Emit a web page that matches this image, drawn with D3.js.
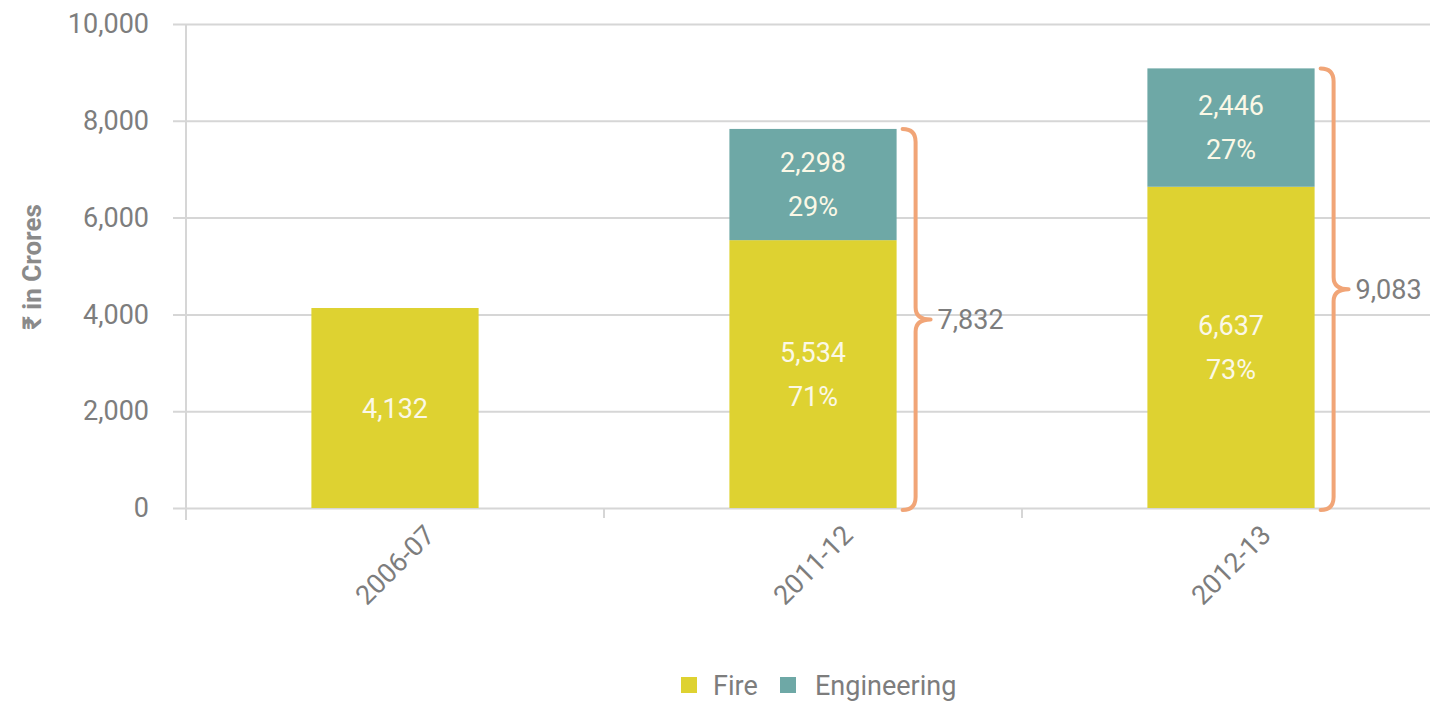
<!DOCTYPE html>
<html>
<head>
<meta charset="utf-8">
<script src="https://cdn.jsdelivr.net/npm/d3@7"></script>
<style>
  html, body { margin: 0; padding: 0; background: #ffffff; }
  svg { display: block; }
  text { font-family: Roboto, "Liberation Sans", sans-serif; }
</style>
</head>
<body>
<svg id="chart" width="1430" height="702"></svg>
<script>
// Premium by business line, ₹ in Crores
const categories = ["2006-07", "2011-12", "2012-13"];
const fireValues = [4132, 5534, 6637];
const engineeringValues = [0, 2298, 2446];
const seriesNames = ["Fire", "Engineering"];
const seriesColors = ["#ded231", "#6ea8a6"];
const yTickValues = [0, 2000, 4000, 6000, 8000, 10000];
const yTitle = "₹ in Crores";

const FONT = "Roboto, \"Liberation Sans\", sans-serif";
const svg = d3.select("#chart");
const W = 1430;
const margin = { left: 186, top: 24, bottom: 508 };

const x = d3.scaleBand()
  .domain(categories)
  .range([margin.left, 1440])
  .paddingInner(0.6)
  .paddingOuter(0.3);

const y = d3.scaleLinear().domain([0, 10000]).range([margin.bottom, margin.top]);

const grey = "#7d7d7d";
const gridColor = "#d6d6d6";

// Gridlines + y tick labels
const yAxis = svg.append("g")
  .attr("transform", `translate(173,0)`)
  .call(d3.axisLeft(y)
    .tickValues(yTickValues)
    .tickFormat(d3.format(","))
    .tickSize(-(W - 173))
    .tickPadding(24));
yAxis.select(".domain").remove();
yAxis.selectAll(".tick line").attr("stroke", gridColor).attr("stroke-width", 2);
yAxis.selectAll(".tick text")
  .attr("fill", grey)
  .style("font-size", "27px")
  .style("font-family", FONT);

// Vertical axis line
svg.append("line")
  .attr("x1", margin.left).attr("x2", margin.left)
  .attr("y1", margin.top).attr("y2", margin.bottom + 12)
  .attr("stroke", gridColor).attr("stroke-width", 2);

// Category boundary ticks
const step = x.step();
categories.slice(0, -1).forEach(c => {
  const bx = x(c) + x.bandwidth() + (step - x.bandwidth()) / 2;
  svg.append("line")
    .attr("x1", bx).attr("x2", bx)
    .attr("y1", margin.bottom).attr("y2", margin.bottom + 10)
    .attr("stroke", gridColor).attr("stroke-width", 2);
});

// X labels
const xAxis = svg.append("g")
  .attr("transform", `translate(0,${margin.bottom})`)
  .call(d3.axisBottom(x).tickSize(0).tickPadding(0));
xAxis.select(".domain").remove();
xAxis.selectAll(".tick text")
  .attr("fill", grey)
  .attr("y", 0).attr("dy", "0.35em")
  .attr("text-anchor", "middle")
  .attr("transform", "translate(0,57) rotate(-45)")
  .style("font-size", "27px")
  .style("font-family", FONT);

// Stacked data
const rows = categories.map((c, i) => ({ cat: c, Fire: fireValues[i], Engineering: engineeringValues[i] }));
const stacked = d3.stack().keys(seriesNames)(rows);

const labelFill = "#fbf8e6";
stacked.forEach((layer, si) => {
  svg.append("g").selectAll("rect")
    .data(layer.filter(d => d[1] > d[0]))
    .join("rect")
    .attr("x", d => x(d.data.cat))
    .attr("width", x.bandwidth())
    .attr("y", d => y(d[1]))
    .attr("height", d => y(d[0]) - y(d[1]))
    .attr("fill", seriesColors[si]);
});

// Segment labels: value, plus share of the year's total where stacked
stacked.forEach((layer) => {
  layer.forEach(d => {
    const v = d[1] - d[0];
    if (v <= 0) return;
    const total = d.data.Fire + d.data.Engineering;
    const cx = x(d.data.cat) + x.bandwidth() / 2;
    const cy = (y(d[0]) + y(d[1])) / 2;
    const lines = [d3.format(",")(v)];
    if (total !== v) lines.push(Math.round(v / total * 100) + "%");
    const t = svg.append("text")
      .attr("text-anchor", "middle")
      .attr("fill", labelFill)
      .style("font-size", "27px");
    lines.forEach((s, k) => {
      t.append("tspan")
        .attr("x", cx)
        .attr("y", cy + (k - (lines.length - 1) / 2) * 44)
        .attr("dy", "0.36em")
        .text(s);
    });
  });
});

// Braces with totals
const braceColor = "#f1a577";
rows.forEach(r => {
  if (r.Engineering <= 0) return;
  const total = r.Fire + r.Engineering;
  const x0 = x(r.cat) + x.bandwidth() + 6;
  const xs = x0 + 13;
  const xt = xs + 15;
  const yTop = y(total), yBot = y(0) + 2;
  const ym = (yTop + yBot) / 2;
  const p = d3.path();
  p.moveTo(x0, yTop);
  p.quadraticCurveTo(xs, yTop, xs, yTop + 13);
  p.lineTo(xs, ym - 12);
  p.quadraticCurveTo(xs, ym, xt, ym);
  p.quadraticCurveTo(xs, ym, xs, ym + 12);
  p.lineTo(xs, yBot - 13);
  p.quadraticCurveTo(xs, yBot, x0, yBot);
  svg.append("path")
    .attr("d", p.toString())
    .attr("fill", "none")
    .attr("stroke", braceColor)
    .attr("stroke-width", 4)
    .attr("stroke-linecap", "round")
    .attr("stroke-linejoin", "round");
  svg.append("text")
    .attr("x", xt + 7)
    .attr("y", ym)
    .attr("dy", "0.36em")
    .attr("fill", grey)
    .style("font-size", "27px")
    .text(d3.format(",")(total));
});

// Y axis title
svg.append("text")
  .attr("transform", "translate(41,267) rotate(-90)")
  .attr("text-anchor", "middle")
  .attr("fill", "#8a8a8a")
  .style("font-size", "26px")
  .style("font-weight", "bold")
  .text(yTitle);

// Legend
const legend = svg.append("g");
const legendItems = [{ name: "Fire", sx: 681, tx: 713 }, { name: "Engineering", sx: 780, tx: 815 }];
legendItems.forEach((it, i) => {
  legend.append("rect")
    .attr("x", it.sx).attr("y", 677)
    .attr("width", 16).attr("height", 16)
    .attr("fill", seriesColors[i]);
  legend.append("text")
    .attr("x", it.tx).attr("y", 685)
    .attr("dy", "0.36em")
    .attr("fill", grey)
    .style("font-size", "27px")
    .text(it.name);
});
</script>
</body>
</html>
